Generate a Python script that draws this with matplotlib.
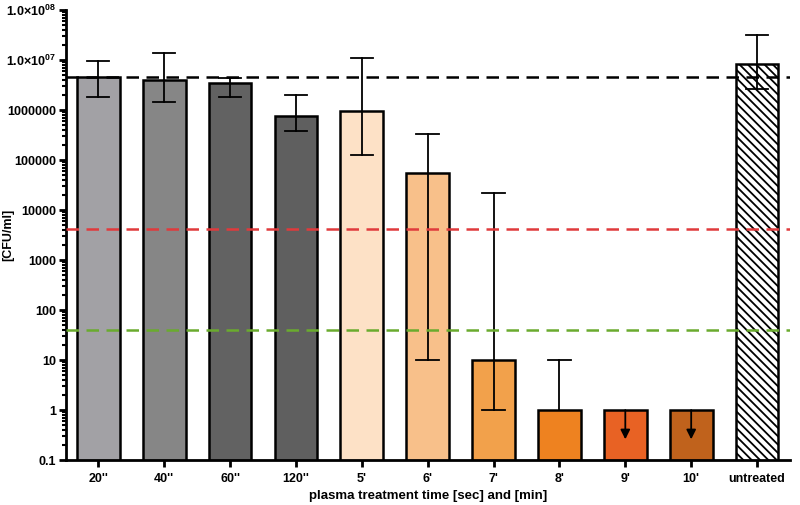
import numpy as np
import matplotlib
matplotlib.use('Agg')
import matplotlib.pyplot as plt

plt.rcParams['font.family'] = ['Liberation Sans', 'DejaVu Sans']
plt.rcParams['font.weight'] = 'bold'
plt.rcParams['mathtext.fontset'] = 'custom'
plt.rcParams['mathtext.rm'] = 'Liberation Sans:bold'
plt.rcParams['mathtext.bf'] = 'Liberation Sans:bold'
plt.rcParams['hatch.linewidth'] = 1.3

# data
labels = ["20''", "40''", "60''", "120''", "5'", "6'", "7'", "8'", "9'", "10'", "untreated"]
means = [4.6e6, 4.0e6, 3.5e6, 7.6e5, 9.5e5, 5.5e4, 10, 1, 1, 1, 8.5e6]
err_hi = [9.5e6, 1.4e7, 4.4e6, 2.0e6, 1.1e7, 3.3e5, 2.2e4, 10, None, None, 3.2e7]
err_lo = [1.8e6, 1.45e6, 1.8e6, 3.8e5, 1.25e5, 10, 1, None, None, None, 2.6e6]
colors = ['#a2a1a5', '#868686', '#626262', '#5f5f5f', '#fde1c6', '#f8c08a',
          '#f2a14b', '#ee8220', '#e86224', '#c0621c', 'white']
below_detection = [8, 9]
ref_lines = [4.6e6, 4.1e3, 40]
ref_colors = ['black', '#e03a3c', '#6aab2e']

yticks = [0.1, 1, 10, 100, 1000, 10000, 100000, 1000000, 1e7, 1e8]
yticklabels = ['0.1', '1', '10', '100', '1000', '10000', '100000', '1000000',
               r'1.0×10$^{07}$', r'1.0×10$^{08}$']

fig = plt.figure(figsize=(8, 5.05), dpi=100)
ax = fig.add_axes([0.0825, 0.089, 0.905, 0.891])

x = np.arange(len(labels))
bars = ax.bar(x, means, width=0.65, color=colors, edgecolor='black', linewidth=1.8, zorder=2)
bars[-1].set_hatch('\\\\\\\\')

# error bars (asymmetric, some sides missing)
for i in range(len(labels)):
    lo = err_lo[i]
    hi = err_hi[i]
    if hi is None and lo is None:
        continue
    top = hi if hi is not None else means[i]
    bot = lo if lo is not None else means[i]
    ax.plot([x[i], x[i]], [bot, top], color='black', lw=1.3, zorder=3)
    for v in [lo, hi]:
        if v is not None:
            ax.plot([x[i] - 0.17, x[i] + 0.17], [v, v], color='black', lw=1.3, zorder=3)

# arrows for values below detection
for i in below_detection:
    ax.annotate('', xy=(x[i], 0.26), xytext=(x[i], means[i]),
                arrowprops=dict(arrowstyle='-|>', color='black', lw=1.3,
                                mutation_scale=14, shrinkA=0, shrinkB=0), zorder=4)

for val, c in zip(ref_lines, ref_colors):
    ax.axhline(val, color=c, lw=1.8, ls=(0, (5, 3)), zorder=5)

ax.set_yscale('log')
ax.set_ylim(0.1, 1e8)
ax.set_xlim(-0.49, 10.5)
ax.set_yticks(yticks)
ax.set_yticklabels(yticklabels)
ax.set_xticks(x)
ax.set_xticklabels(labels)

for s in ['top', 'right']:
    ax.spines[s].set_visible(False)
for s in ['left', 'bottom']:
    ax.spines[s].set_linewidth(2)
ax.tick_params(axis='both', which='major', direction='out', length=5, width=2, labelsize=9)
ax.tick_params(axis='y', which='minor', direction='out', length=3, width=1.5)
ax.tick_params(axis='x', pad=4)
ax.tick_params(axis='y', pad=2)

ax.set_ylabel('[CFU/ml]', fontsize=9, fontweight='bold')
ax.yaxis.set_label_coords(-0.072, 0.5)
ax.set_xlabel('plasma treatment time [sec] and [min]', fontsize=9.5, fontweight='bold', labelpad=4)

fig.savefig('out.png', dpi=100)
